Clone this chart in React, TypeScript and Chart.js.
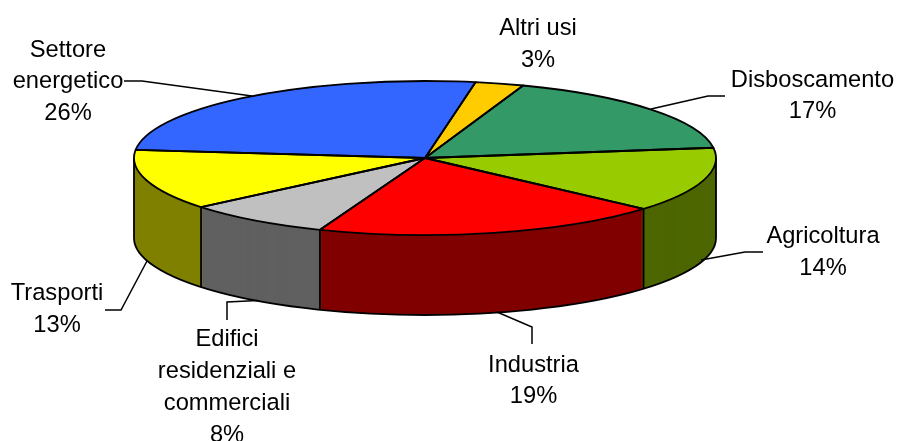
import React, { useEffect, useRef } from "react";
import { Chart, registerables } from "chart.js";

Chart.register(...registerables);

const categories = ["Altri usi", "Disboscamento", "Agricoltura", "Industria", "Edifici residenziali e commerciali", "Trasporti", "Settore energetico"];
const values = [2.7, 17.4, 13.6, 19.4, 8.1, 12.7, 26.1];
const topColors = ["#FFCC00", "#339966", "#99CC00", "#FF0000", "#C0C0C0", "#FFFF00", "#3366FF"];
const wallColors = ["#806600", "#1A4D33", "#4D6600", "#800000", "#606060", "#808000", "#1A3380"];
const labelLines = [["Altri usi"], ["Disboscamento"], ["Agricoltura"], ["Industria"], ["Edifici", "residenziali e", "commerciali"], ["Trasporti"], ["Settore", "energetico"]];

const labelCenterX = [538, 812.5, 823, 533.5, 227, 57, 68];
const labelFirstY = [28, 80, 236, 365, 339, 293, 50];
const labelStep = [32, 31.5, 32, 31.5, 32, 32, 31.5];
const leaders: number[][][] = [
  [],
  [[725, 96], [708, 96], [651, 109]],
  [[763, 252], [745, 252], [701, 260]],
  [[532, 344], [532, 327], [497, 312]],
  [[227, 320], [227, 302], [258, 300.5]],
  [[105, 310], [121, 310], [147, 261]],
  [[124, 81], [142, 81], [252, 96]],
];

const disc = { cx: 425, cy: 158, rx: 291, ry: 77, depth: 80 };
const FONT = '23.7px "Liberation Sans", Arial, sans-serif';

const applyDisc = (ctx: CanvasRenderingContext2D, arc: any, dy: number) => {
  const r = arc.outerRadius;
  ctx.translate(disc.cx, disc.cy + dy);
  ctx.scale(disc.rx / r, disc.ry / r);
  ctx.translate(-arc.x, -arc.y);
};

const pie3d = {
  id: "pie3d",
  beforeDatasetsDraw(chart: any) {
    const ctx: CanvasRenderingContext2D = chart.ctx;
    const arcs = chart.getDatasetMeta(0).data;
    for (let d = disc.depth; d >= 1; d--) {
      ctx.save();
      applyDisc(ctx, arcs[0], d);
      arcs.forEach((arc: any, i: number) => {
        const saved = arc.options;
        arc.options = { ...saved, backgroundColor: wallColors[i], borderWidth: 0 };
        arc.draw(ctx);
        arc.options = saved;
      });
      ctx.restore();
    }
    ctx.save();
    applyDisc(ctx, arcs[0], 0);
  },
  afterDatasetsDraw(chart: any) {
    const ctx: CanvasRenderingContext2D = chart.ctx;
    ctx.restore();
    const arcs = chart.getDatasetMeta(0).data;
    ctx.save();
    ctx.strokeStyle = "#000";
    ctx.lineWidth = 1.8;
    ctx.lineJoin = "round";
    const { cx, cy, rx, ry, depth } = disc;
    // bottom rim and silhouette
    ctx.beginPath();
    ctx.moveTo(cx - rx, cy);
    ctx.lineTo(cx - rx, cy + depth);
    ctx.ellipse(cx, cy + depth, rx, ry, 0, Math.PI, 0, true);
    ctx.lineTo(cx + rx, cy);
    ctx.stroke();
    // vertical slice edges on the front half
    arcs.forEach((arc: any) => {
      const a = arc.startAngle;
      const s = Math.sin(a);
      if (s > 0) {
        const x = cx + rx * Math.cos(a);
        const y = cy + ry * s;
        ctx.beginPath();
        ctx.moveTo(x, y);
        ctx.lineTo(x, y + depth);
        ctx.stroke();
      }
    });
    // top faces
    arcs.forEach((arc: any) => {
      ctx.beginPath();
      ctx.moveTo(cx, cy);
      ctx.ellipse(cx, cy, rx, ry, 0, arc.startAngle, arc.endAngle);
      ctx.closePath();
      ctx.stroke();
    });
    ctx.restore();
  },
  afterDraw(chart: any) {
    const ctx: CanvasRenderingContext2D = chart.ctx;
    ctx.save();
    ctx.strokeStyle = "#000";
    ctx.lineWidth = 1.5;
    leaders.forEach((pts) => {
      if (!pts.length) return;
      ctx.beginPath();
      pts.forEach(([x, y], k) => (k ? ctx.lineTo(x, y) : ctx.moveTo(x, y)));
      ctx.stroke();
    });
    ctx.fillStyle = "#000";
    ctx.font = FONT;
    ctx.textAlign = "center";
    ctx.textBaseline = "middle";
    labelLines.forEach((lines, i) => {
      const all = [...lines, `${Math.round(values[i])}%`];
      all.forEach((t, k) => ctx.fillText(t, labelCenterX[i], labelFirstY[i] + k * labelStep[i]));
    });
    ctx.restore();
  },
};

export default function App() {
  const ref = useRef<HTMLCanvasElement>(null);
  useEffect(() => {
    const chart = new Chart(ref.current as HTMLCanvasElement, {
      type: "pie",
      data: {
        labels: categories,
        datasets: [{ data: values, backgroundColor: topColors, borderWidth: 0, clip: false } as any],
      },
      options: {
        responsive: false,
        animation: false,
        rotation: 10,
        events: [],
        layout: { padding: 0 },
        plugins: { legend: { display: false }, tooltip: { enabled: false } },
      },
      plugins: [pie3d],
    });
    return () => chart.destroy();
  }, []);
  return (
    <canvas
      ref={ref}
      width={898}
      height={441}
      style={{ position: "absolute", left: 0, top: 0, width: 898, height: 441, display: "block", background: "#fff" }}
    />
  );
}
